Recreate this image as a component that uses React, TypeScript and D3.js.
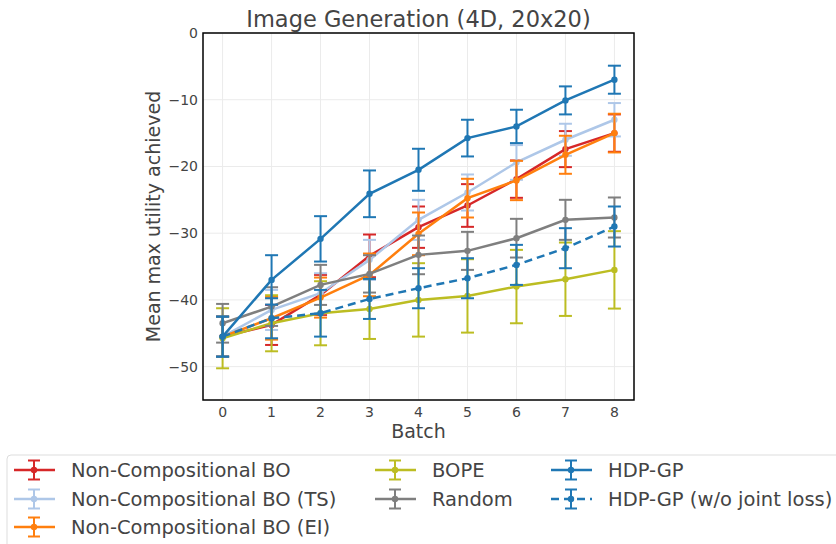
import React from "react";
import { scaleLinear, line } from "d3";

const batches = [0, 1, 2, 3, 4, 5, 6, 7, 8];
const yTicks = [0, -10, -20, -30, -40, -50];

const seriesNames = [
  "Non-Compositional BO",
  "Non-Compositional BO (TS)",
  "Non-Compositional BO (EI)",
  "BOPE",
  "Random",
  "HDP-GP",
  "HDP-GP (w/o joint loss)",
];
const seriesColors = ["#d62728", "#aec7e8", "#ff7f0e", "#bcbd22", "#7f7f7f", "#1f77b4", "#1f77b4"];
const seriesDashed = [false, false, false, false, false, false, true];

const ncboMean = [-45.5, -43.75, -39.25, -33.4, -29.1, -25.85, -21.9, -17.4, -15];
const ncboErr = [3, 3, 3, 3.2, 3.1, 3.2, 2.8, 2.7, 2.8];
const tsMean = [-45.5, -41.5, -39, -34, -28, -23.9, -19.4, -16, -13];
const tsErr = [3, 3, 3, 3, 3, 2.7, 2.6, 2.4, 2.5];
const eiMean = [-45.5, -42.75, -39.65, -36.25, -30.1, -24.75, -22.1, -18.25, -15];
const eiErr = [3, 3.2, 3, 3.2, 3.2, 2.9, 2.95, 2.85, 2.9];
const bopeMean = [-45.75, -43.5, -42, -41.35, -40, -39.4, -38, -36.9, -35.5];
const bopeErr = [4.5, 4.2, 4.8, 4.5, 5.5, 5.5, 5.5, 5.5, 5.8];
const randomMean = [-43.5, -41, -37.75, -36.1, -33.25, -32.65, -30.75, -28, -27.65];
const randomErr = [2.9, 2.9, 3, 2.8, 2.9, 2.85, 2.9, 3, 3];
const hdpMean = [-45.5, -37, -30.85, -24.1, -20.5, -15.75, -14, -10.1, -7];
const hdpErr = [3, 3.7, 3.4, 3.5, 3.15, 2.75, 2.5, 2.1, 2.1];
const hdpNoJointMean = [-45.5, -42.75, -42, -39.85, -38.25, -36.75, -34.75, -32.25, -29];
const hdpNoJointErr = [3, 3, 3.5, 3, 3, 3, 3, 3, 3];

const means = [ncboMean, tsMean, eiMean, bopeMean, randomMean, hdpMean, hdpNoJointMean];
const errs = [ncboErr, tsErr, eiErr, bopeErr, randomErr, hdpErr, hdpNoJointErr];

const FONT = "DejaVu Sans, sans-serif";
const TEXT = "#444";

export default function App() {
  const width = 836;
  const height = 544;
  const left = 203;
  const right = 634;
  const top = 33;
  const bottom = 400;

  const x = scaleLinear().domain([-0.4, 8.4]).range([left, right]);
  const y = scaleLinear().domain([-55, 0]).range([bottom, top]);

  const path = line<number>()
    .x((_, i) => x(batches[i]))
    .y((d) => y(d));

  const fmt = (v: number) => (v < 0 ? "\u2212" + Math.abs(v) : String(v));

  const legendCols = [14, 375, 551];
  const legendRows = [470, 499, 527];
  const legendPos = [
    [0, 0],
    [0, 1],
    [0, 2],
    [1, 0],
    [1, 1],
    [2, 0],
    [2, 1],
  ];

  return (
    <svg
      width={width}
      height={height}
      style={{ position: "absolute", left: 0, top: 0, background: "#fff" }}
      fontFamily={FONT}
    >
      {/* grid */}
      {batches.map((b) => (
        <line key={"gx" + b} x1={x(b)} x2={x(b)} y1={top} y2={bottom} stroke="#ebebeb" strokeWidth={1} />
      ))}
      {yTicks.map((t) => (
        <line key={"gy" + t} x1={left} x2={right} y1={y(t)} y2={y(t)} stroke="#ebebeb" strokeWidth={1} />
      ))}

      {/* series */}
      {means.map((m, si) => {
        const c = seriesColors[si];
        return (
          <g key={seriesNames[si]}>
            {m.map((v, i) => {
              const e = errs[si][i];
              const cx = x(batches[i]);
              return (
                <g key={i} stroke={c} strokeWidth={2}>
                  <line x1={cx} x2={cx} y1={y(v - e)} y2={y(v + e)} />
                  <line x1={cx - 6.5} x2={cx + 6.5} y1={y(v - e)} y2={y(v - e)} />
                  <line x1={cx - 6.5} x2={cx + 6.5} y1={y(v + e)} y2={y(v + e)} />
                </g>
              );
            })}
            <path
              d={path(m) || ""}
              fill="none"
              stroke={c}
              strokeWidth={2.5}
              strokeDasharray={seriesDashed[si] ? "8,5" : undefined}
            />
            {m.map((v, i) => (
              <circle key={"p" + i} cx={x(batches[i])} cy={y(v)} r={3.2} fill={c} />
            ))}
          </g>
        );
      })}

      {/* frame */}
      <rect x={left} y={top} width={right - left} height={bottom - top} fill="none" stroke="#000" strokeWidth={1.5} />

      {/* ticks */}
      {yTicks.map((t) => (
        <text key={"ty" + t} x={left - 5} y={y(t)} dy="0.35em" textAnchor="end" fontSize={14} fill={TEXT}>
          {fmt(t)}
        </text>
      ))}
      {batches.map((b) => (
        <text key={"tx" + b} x={x(b)} y={bottom + 17} textAnchor="middle" fontSize={14} fill={TEXT}>
          {b}
        </text>
      ))}

      {/* labels */}
      <text x={(left + right) / 2} y={27} textAnchor="middle" fontSize={22.5} fill={TEXT}>
        Image Generation (4D, 20x20)
      </text>
      <text x={(left + right) / 2} y={438} textAnchor="middle" fontSize={19} fill={TEXT}>
        Batch
      </text>
      <text
        transform={`translate(160, ${(top + bottom) / 2}) rotate(-90)`}
        textAnchor="middle"
        fontSize={19}
        fill={TEXT}
      >
        Mean max utility achieved
      </text>

      {/* legend */}
      <rect x={7} y={455} width={840} height={100} rx={4} fill="#fff" stroke="#ddd" strokeWidth={1} />
      {seriesNames.map((name, si) => {
        const [ci, ri] = legendPos[si];
        const lx = legendCols[ci];
        const ly = legendRows[ri];
        const c = seriesColors[si];
        const mid = lx + 20;
        return (
          <g key={"lg" + name}>
            <line
              x1={lx}
              x2={lx + 41}
              y1={ly}
              y2={ly}
              stroke={c}
              strokeWidth={2.5}
              strokeDasharray={seriesDashed[si] ? "8,5" : undefined}
            />
            <line x1={mid} x2={mid} y1={ly - 9.5} y2={ly + 9.5} stroke={c} strokeWidth={2} />
            <line x1={mid - 6} x2={mid + 6} y1={ly - 9.5} y2={ly - 9.5} stroke={c} strokeWidth={2} />
            <line x1={mid - 6} x2={mid + 6} y1={ly + 9.5} y2={ly + 9.5} stroke={c} strokeWidth={2} />
            <circle cx={mid} cy={ly} r={3.2} fill={c} />
            <text x={lx + 57} y={ly} dy="0.35em" fontSize={19.5} fill={TEXT}>
              {name}
            </text>
          </g>
        );
      })}
    </svg>
  );
}
